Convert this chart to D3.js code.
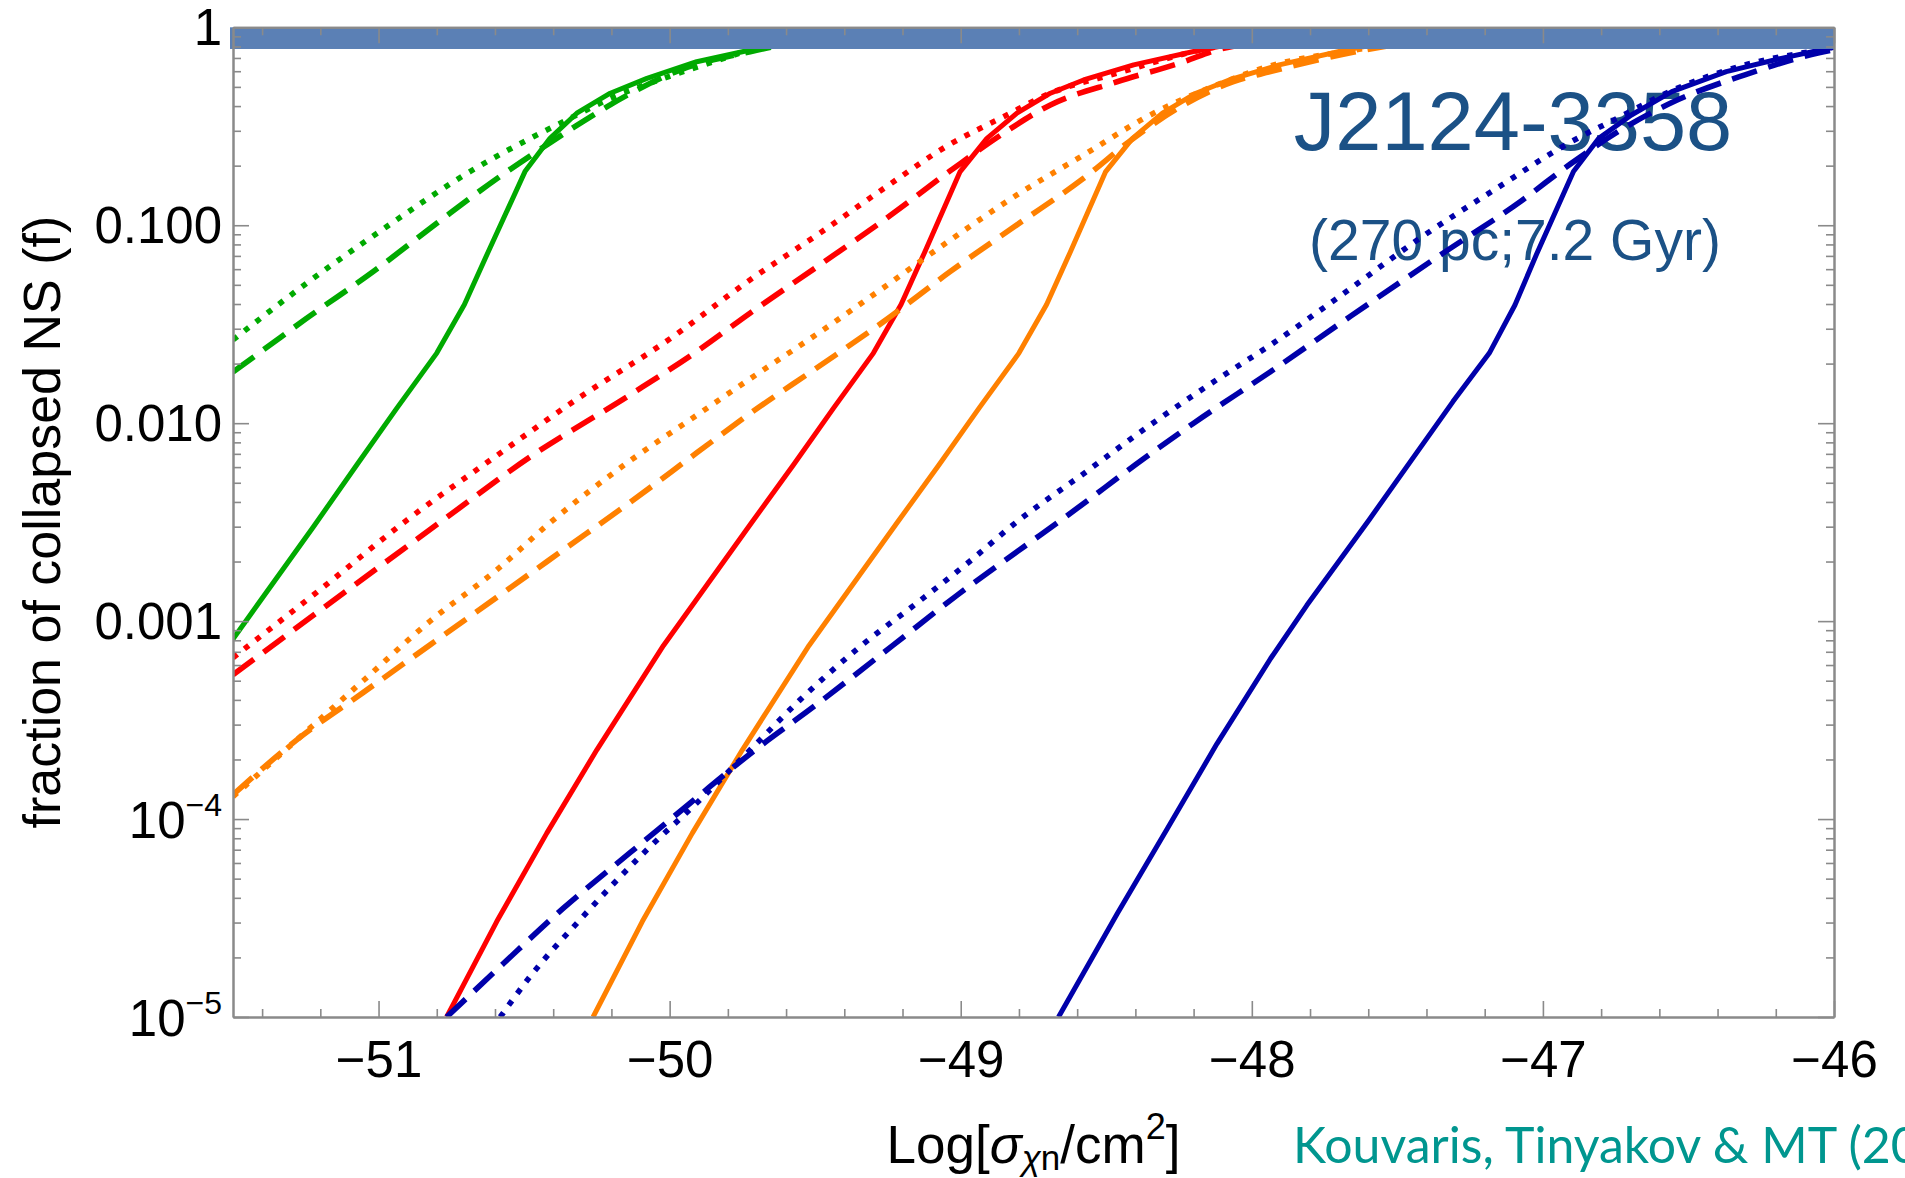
<!DOCTYPE html>
<html><head><meta charset="utf-8">
<script src="https://cdn.jsdelivr.net/npm/d3@7"></script>
<style>
body{margin:0;background:#fff;}
svg{display:block;}
text{font-family:"Liberation Sans",Arial,Helvetica,sans-serif;}
</style>
</head><body>
<svg id="chart" width="1905" height="1178"></svg>
<script>
// ---------------- data (x = log10 sigma, value = log10 f) ----------------
const xTickValues = [-51, -50, -49, -48, -47, -46];
const yTickValues = [1e-5, 1e-4, 1e-3, 1e-2, 1e-1, 1];
const yTickLabels = [["10", "−5"], ["10", "−4"], ["0.001"], ["0.010"], ["0.100"], ["1"]];

const greenSolid = [[-51.5,-3.09],[-51.223,-2.522],[-51.075,-2.211],[-50.937,-1.924],[-50.8,-1.646],[-50.705,-1.40],[-50.625,-1.14],[-50.497,-0.729],[-50.411,-0.561],[-50.319,-0.434],[-50.204,-0.333],[-50.078,-0.258],[-49.907,-0.174],[-49.723,-0.115],[-49.58,-0.08]];
const greenDashed = [[-51.5,-1.741],[-51.396,-1.63],[-51.247,-1.47],[-51.018,-1.234],[-50.8,-0.99],[-50.594,-0.765],[-50.422,-0.594],[-50.308,-0.485],[-50.136,-0.335],[-49.964,-0.216],[-49.723,-0.123],[-49.6,-0.085]];
const greenDotted = [[-51.5,-1.579],[-51.247,-1.293],[-50.972,-1.007],[-50.686,-0.729],[-50.479,-0.561],[-50.342,-0.46],[-50.204,-0.36],[-50.021,-0.258],[-49.849,-0.174],[-49.723,-0.115],[-49.6,-0.08]];

const redSolid = [[-50.766,-5.0],[-50.594,-4.518],[-50.422,-4.071],[-50.25,-3.65],[-50.021,-3.123],[-49.723,-2.512],[-49.575,-2.211],[-49.437,-1.924],[-49.3,-1.646],[-49.205,-1.40],[-49.125,-1.14],[-49.002,-0.729],[-48.91,-0.561],[-48.807,-0.434],[-48.692,-0.333],[-48.578,-0.266],[-48.406,-0.19],[-48.177,-0.115],[-48.05,-0.08]];
const redDashed = [[-51.5,-3.271],[-50.777,-2.488],[-50.479,-2.17],[-50.136,-1.857],[-49.907,-1.638],[-49.723,-1.443],[-49.494,-1.21],[-49.265,-0.975],[-49.036,-0.725],[-48.853,-0.535],[-48.692,-0.392],[-48.463,-0.275],[-48.234,-0.174],[-48.12,-0.115],[-48.0,-0.08]];
const redDotted = [[-51.5,-3.185],[-51.2,-2.84],[-50.903,-2.49],[-50.6,-2.17],[-50.32,-1.88],[-50.0,-1.575],[-49.723,-1.275],[-49.494,-1.05],[-49.265,-0.815],[-49.036,-0.59],[-48.853,-0.452],[-48.692,-0.333],[-48.463,-0.232],[-48.177,-0.115],[-48.05,-0.08]];

const orangeSolid = [[-50.263,-5.0],[-50.094,-4.518],[-49.922,-4.071],[-49.75,-3.65],[-49.521,-3.123],[-49.223,-2.512],[-49.075,-2.211],[-48.937,-1.924],[-48.8,-1.646],[-48.705,-1.40],[-48.625,-1.14],[-48.502,-0.729],[-48.41,-0.561],[-48.307,-0.434],[-48.192,-0.333],[-48.078,-0.266],[-47.906,-0.19],[-47.677,-0.115],[-47.55,-0.08]];
const orangeDashed = [[-51.5,-3.877],[-51.281,-3.6],[-51.052,-3.36],[-50.823,-3.12],[-50.594,-2.88],[-50.365,-2.64],[-50.136,-2.40],[-49.907,-2.15],[-49.723,-1.95],[-49.494,-1.72],[-49.265,-1.487],[-49.036,-1.234],[-48.807,-0.998],[-48.578,-0.763],[-48.406,-0.56],[-48.234,-0.392],[-48.063,-0.275],[-47.936,-0.224],[-47.648,-0.125],[-47.5,-0.085]];
const orangeDotted = [[-51.5,-3.887],[-51.281,-3.6],[-51.052,-3.3],[-50.823,-3.0],[-50.594,-2.741],[-50.411,-2.503],[-50.136,-2.19],[-49.907,-1.96],[-49.723,-1.775],[-49.494,-1.55],[-49.265,-1.315],[-49.036,-1.075],[-48.807,-0.847],[-48.578,-0.645],[-48.349,-0.443],[-48.12,-0.291],[-47.936,-0.195],[-47.648,-0.115],[-47.5,-0.08]];

const blueSolid = [[-48.664,-5.0],[-48.463,-4.48],[-48.291,-4.05],[-48.12,-3.62],[-47.936,-3.19],[-47.811,-2.92],[-47.598,-2.49],[-47.309,-1.891],[-47.184,-1.646],[-47.096,-1.403],[-47.02,-1.14],[-46.895,-0.729],[-46.808,-0.561],[-46.696,-0.443],[-46.557,-0.325],[-46.37,-0.224],[-46.181,-0.157],[-46.019,-0.106],[-45.9,-0.08]];
const blueDashed = [[-50.766,-5.0],[-50.571,-4.73],[-50.365,-4.45],[-50.136,-4.17],[-49.93,-3.92],[-49.723,-3.67],[-49.494,-3.42],[-49.231,-3.12],[-49.013,-2.87],[-48.807,-2.65],[-48.6,-2.43],[-48.4,-2.21],[-48.2,-2.0],[-47.936,-1.74],[-47.661,-1.46],[-47.352,-1.15],[-47.077,-0.88],[-46.905,-0.69],[-46.745,-0.53],[-46.557,-0.38],[-46.306,-0.24],[-46.055,-0.13],[-45.95,-0.1]];
const blueDotted = [[-50.582,-5.0],[-50.479,-4.795],[-50.308,-4.509],[-50.078,-4.155],[-49.907,-3.919],[-49.723,-3.65],[-49.552,-3.398],[-49.345,-3.128],[-49.151,-2.909],[-48.979,-2.71],[-48.807,-2.498],[-48.578,-2.255],[-48.349,-2.009],[-48.12,-1.78],[-47.936,-1.605],[-47.696,-1.357],[-47.421,-1.064],[-47.163,-0.817],[-46.905,-0.58],[-46.745,-0.46],[-46.557,-0.32],[-46.306,-0.19],[-46.055,-0.115],[-45.95,-0.085]];

const seriesList = [
  {data: greenDotted, color: "#00aa00", style: "dotted"},
  {data: greenDashed, color: "#00aa00", style: "dashed"},
  {data: greenSolid,  color: "#00aa00", style: "solid"},
  {data: redDotted,   color: "#ff0000", style: "dotted"},
  {data: redDashed,   color: "#ff0000", style: "dashed"},
  {data: redSolid,    color: "#ff0000", style: "solid"},
  {data: orangeDotted,color: "#ff8000", style: "dotted"},
  {data: orangeDashed,color: "#ff8000", style: "dashed"},
  {data: orangeSolid, color: "#ff8000", style: "solid"},
  {data: blueDotted,  color: "#0000aa", style: "dotted"},
  {data: blueDashed,  color: "#0000aa", style: "dashed"},
  {data: blueSolid,   color: "#0000aa", style: "solid"}
];
const bandFloor = 0.777;

// ---------------- layout ----------------
const X0 = 233, X1 = 1834, Y0 = 27.3, Y1 = 1017;
const svg = d3.select("#chart");
svg.append("rect").attr("width",1905).attr("height",1178).attr("fill","#fff");

const x = d3.scaleLinear().domain([-51.5, -46]).range([X0, X1]);
const y = d3.scaleLog().domain([1e-5, 1]).range([Y1, Y0]);

svg.append("defs").append("clipPath").attr("id","plotclip")
  .append("rect").attr("x",X0).attr("y",Y0).attr("width",X1-X0).attr("height",Y1-Y0);

// Annotation texts (under the curves)
const titleColor = "#1b5186";
svg.append("text").attr("x",1513).attr("y",150).attr("text-anchor","middle")
  .attr("font-size",83).attr("fill",titleColor).text("J2124-3358");
svg.append("text").attr("x",1515).attr("y",260).attr("text-anchor","middle")
  .attr("font-size",57).attr("fill",titleColor).text("(270 pc;7.2 Gyr)");

// Curves
const dashFor = {solid: null, dashed: "26,12", dotted: "5.5,9"};
const widthFor = {solid: 5, dashed: 5.6, dotted: 5.6};
const gCurves = svg.append("g").attr("clip-path","url(#plotclip)");
seriesList.forEach(s => {
  const line = d3.line()
    .x(d => x(d[0]))
    .y(d => y(Math.pow(10, d[1])))
    .curve(s.style === "solid" ? d3.curveLinear : d3.curveMonotoneX);
  gCurves.append("path").datum(s.data)
    .attr("d", line)
    .attr("fill","none")
    .attr("stroke", s.color)
    .attr("stroke-width", widthFor[s.style])
    .attr("stroke-dasharray", dashFor[s.style])
    .attr("stroke-linejoin","round")
    .attr("stroke-linecap","butt");
});

// Band at f = 1
svg.append("rect").attr("x", X0 - 3).attr("y", y(1))
  .attr("width", X1 - X0 + 3).attr("height", y(bandFloor) - y(1))
  .attr("fill", "#5b80b5");

// ---------------- axes / frame ----------------
const frameColor = "#8a8a8a";
const xMinor = d3.range(-51.4, -46.0, 0.2).map(v => Math.round(v*10)/10).filter(v => Math.abs(v - Math.round(v)) > 1e-6);
const yMinor = [];
[1e-5,1e-4,1e-3,1e-2,1e-1].forEach(dec => { for (let k = 2; k <= 9; k++) yMinor.push(dec*k); });

function styleAxis(g){
  g.selectAll(".domain").attr("stroke", frameColor).attr("stroke-width", 2);
  g.selectAll(".tick line").attr("stroke", frameColor).attr("stroke-width", 1.6);
}

// bottom
const gB = svg.append("g").attr("transform",`translate(0,${Y1})`)
  .call(d3.axisBottom(x).tickValues(xTickValues).tickSize(-16).tickSizeOuter(0).tickPadding(24).tickFormat(d3.format("d")));
styleAxis(gB);
gB.selectAll("text").attr("font-size",51).attr("fill","#000")
  .style("font-family",'"Liberation Sans",Arial,sans-serif');
svg.append("g").attr("transform",`translate(0,${Y1})`)
  .call(d3.axisBottom(x).tickValues(xMinor).tickSize(-8).tickSizeOuter(0).tickFormat("")).call(styleAxis);

// top
svg.append("g").attr("transform",`translate(0,${Y0})`)
  .call(d3.axisTop(x).tickValues(xTickValues).tickSize(-16).tickSizeOuter(0).tickFormat("")).call(styleAxis);
svg.append("g").attr("transform",`translate(0,${Y0})`)
  .call(d3.axisTop(x).tickValues(xMinor).tickSize(-8).tickSizeOuter(0).tickFormat("")).call(styleAxis);

// left
const gL = svg.append("g").attr("transform",`translate(${X0},0)`)
  .call(d3.axisLeft(y).tickValues(yTickValues).tickSize(-16).tickSizeOuter(0).tickPadding(11).tickFormat(""));
styleAxis(gL);
gL.selectAll(".tick text").each(function(d){
  const t = d3.select(this).attr("font-size",51).attr("fill","#000").attr("dy",null)
    .attr("dominant-baseline","central")
    .style("font-family",'"Liberation Sans",Arial,sans-serif');
  const lab = yTickLabels[yTickValues.indexOf(d)];
  t.text(null);
  if (lab.length === 1) {
    t.text(lab[0]);
  } else {
    t.attr("dominant-baseline", null).attr("dy", "0.36em");
    t.append("tspan").text(lab[0]);
    t.append("tspan").attr("font-size",32).attr("dy",-22).text(lab[1]);
  }
});
svg.append("g").attr("transform",`translate(${X0},0)`)
  .call(d3.axisLeft(y).tickValues(yMinor).tickSize(-8).tickSizeOuter(0).tickFormat("")).call(styleAxis);

// right
svg.append("g").attr("transform",`translate(${X1},0)`)
  .call(d3.axisRight(y).tickValues(yTickValues).tickSize(-16).tickSizeOuter(0).tickFormat("")).call(styleAxis);
svg.append("g").attr("transform",`translate(${X1},0)`)
  .call(d3.axisRight(y).tickValues(yMinor).tickSize(-8).tickSizeOuter(0).tickFormat("")).call(styleAxis);

// ---------------- axis titles ----------------
svg.append("text").attr("transform",`translate(60,${(Y0+Y1)/2}) rotate(-90)`)
  .attr("text-anchor","middle").attr("font-size",52).attr("fill","#000")
  .text("fraction of collapsed NS (f)");

const xt = svg.append("text").attr("x",(X0+X1)/2).attr("y",1163)
  .attr("text-anchor","middle").attr("font-size",53).attr("fill","#000");
xt.append("tspan").text("Log[");
xt.append("tspan").attr("font-style","italic").text("σ");
xt.append("tspan").attr("font-style","italic").attr("font-size",35).attr("dy",7).text("χ");
xt.append("tspan").attr("font-size",35).text("n");
xt.append("tspan").attr("dy",-7).text("/cm");
xt.append("tspan").attr("font-size",36).attr("dy",-24).text("2");
xt.append("tspan").attr("dy",24).text("]");

// citation
svg.append("text").attr("x",1293).attr("y",1163).attr("font-size",50)
  .attr("fill","#00968f").style("font-family","Lato, 'Open Sans', sans-serif")
  .text("Kouvaris, Tinyakov & MT (2018)");
</script>
</body></html>
